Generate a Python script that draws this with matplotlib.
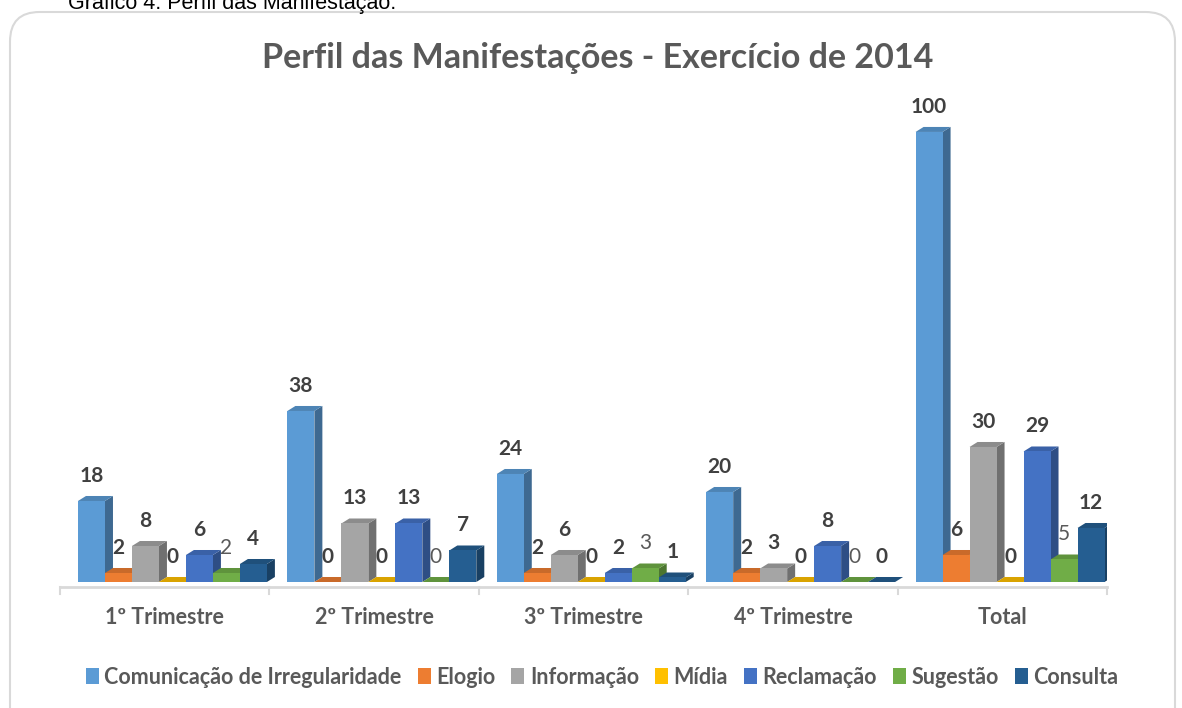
"""
Perfil das Manifestacoes - Exercicio de 2014 (pseudo-3D column chart)
"""

import matplotlib.pyplot as plt
from matplotlib.patches import Polygon, Patch, FancyBboxPatch
import numpy as np

#---------------------------------------------------------------------------------------------------
# Data
#---------------------------------------------------------------------------------------------------

categories = ['1º Trimestre', '2º Trimestre', '3º Trimestre', '4º Trimestre', 'Total']
series_names = ['Comunicação de Irregularidade', 'Elogio', 'Informação', 'Mídia',
                'Reclamação', 'Sugestão', 'Consulta']
comunicacao = [18, 38, 24, 20, 100]
elogio = [2, 0, 2, 2, 6]
informacao = [8, 13, 6, 3, 30]
midia = [0, 0, 0, 0, 0]
reclamacao = [6, 13, 2, 8, 29]
sugestao = [2, 0, 3, 0, 5]
consulta = [4, 7, 1, 0, 12]

colors = ['#5B9BD5', '#ED7D31', '#A5A5A5', '#FFC000', '#4472C4', '#70AD47', '#255E91']
title = 'Perfil das Manifestações - Exercício de 2014'
caption = 'Gráfico 4: Perfil das Manifestação:'

#---------------------------------------------------------------------------------------------------
# Plot
#---------------------------------------------------------------------------------------------------

plt.rcParams['font.family'] = ['Lato', 'DejaVu Sans']

W, H = 1182, 708
fig = plt.figure(figsize=(W / 100, H / 100), dpi=100)

# rounded chart border (runs off the bottom of the image)
border = FancyBboxPatch((10 / W, -40 / H), 1165 / W, 736 / H,
                        boxstyle='round,pad=0,rounding_size=0.025',
                        transform=fig.transFigure, fc='none', ec='#D9D9D9', lw=1.5,
                        mutation_aspect=W / H, zorder=-1)
fig.patches.append(border)

fig.text(68 / W, 1 - 9 / H, caption, fontsize=15.5, family='Liberation Sans',
         color='black', va='baseline', ha='left')

ax = fig.add_axes([60 / W, (H - 600) / H, 1047 / W, 500 / H])
ax.set_xlim(-0.5, 4.5)
ax.set_ylim(-4, 107.1)
ax.axis('off')

def darker(c, f):
    r, g, b = [int(c[i:i + 2], 16) / 255 for i in (1, 3, 5)]
    return (r * f, g * f, b * f)

data = [comunicacao, elogio, informacao, midia, reclamacao, sugestao, consulta]
x = np.arange(len(categories))
off = 18 / 209.5
w = 27 / 209.5
dx = 8 / 209.5
dy = 5 / 4.5

z = 2
for j in range(len(categories)):
    for i, vals in enumerate(data):
        v = vals[j]
        x0 = x[j] - 0.5 + off + i * w
        c = colors[i]
        side = Polygon([(x0 + w, 0), (x0 + w + dx, dy), (x0 + w + dx, v + dy), (x0 + w, v)],
                       closed=True, fc=darker(c, 0.68), ec='none', zorder=z)
        top = Polygon([(x0, v), (x0 + dx, v + dy), (x0 + w + dx, v + dy), (x0 + w, v)],
                      closed=True, fc=darker(c, 0.85), ec='none', zorder=z)
        ax.add_patch(side)
        ax.add_patch(top)
        ax.bar(x0, v, width=w, align='edge', color=c, zorder=z + 0.5)
        z += 1
        if series_names[i] == 'Sugestão':
            ax.text(x0 + w / 2, v + 5.6, str(v), ha='center', va='center',
                    fontsize=15, color='#595959', zorder=100)
        else:
            ax.text(x0 + w / 2, v + 5.6, str(v), ha='center', va='center',
                    fontsize=15, fontweight='bold', color='#404040', zorder=100)

# floor line and category ticks
floor = -5 / 4.5
ax.plot([-0.5, 4.5], [floor, floor], color='#D9D9D9', lw=2, zorder=1, clip_on=False)
for b in np.arange(-0.5, 4.6, 1.0):
    ax.plot([b, b], [floor, floor - 7 / 4.5], color='#D9D9D9', lw=1.5, zorder=1, clip_on=False)
for j, cat in enumerate(categories):
    ax.text(x[j], -35 / 4.5, cat, ha='center', va='center', fontsize=15.5,
            fontweight='bold', color='#595959')

fig.text(598 / W, 1 - 58 / H, title, ha='center', va='center', fontsize=24.5,
         fontweight='bold', color='#595959')

handles = [Patch(facecolor=c, edgecolor='none') for c in colors]
fig.legend(handles, series_names, loc='center', bbox_to_anchor=(602 / W, 1 - 677 / H),
           ncol=7, frameon=False, handlelength=0.6, handleheight=0.7, handletextpad=0.25,
           columnspacing=0.75, prop={'size': 15.5, 'weight': 'bold'}, labelcolor='#595959')

plt.savefig('out.png', dpi=100)
